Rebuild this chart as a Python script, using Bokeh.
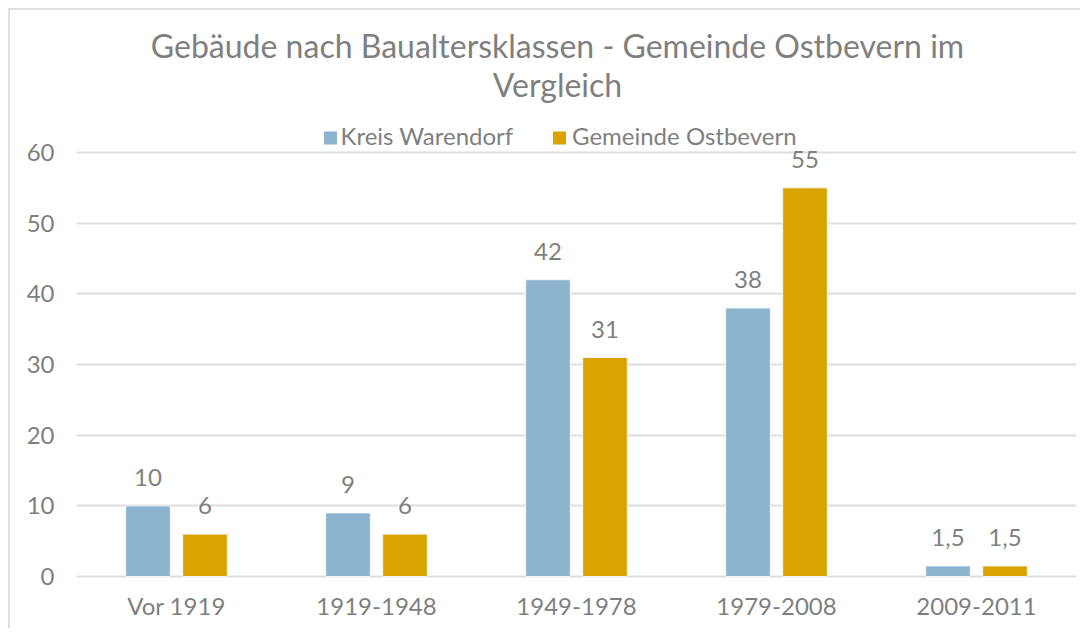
from bokeh.plotting import figure
from bokeh.models import Range1d, FixedTicker, ColumnDataSource
from bokeh.core.properties import value
from bokeh.embed import file_html
from bokeh.resources import INLINE

# ---- data ----
categories = ["Vor 1919", "1919-1948", "1949-1978", "1979-2008", "2009-2011"]
kreis_warendorf = [10, 9, 42, 38, 1.5]
gemeinde_ostbevern = [6, 6, 31, 55, 1.5]
series_names = ["Kreis Warendorf", "Gemeinde Ostbevern"]
y_ticks = [0, 10, 20, 30, 40, 50, 60]
title_lines = ["Gebäude nach Baualtersklassen - Gemeinde Ostbevern im", "Vergleich"]

# ---- style ----
BLUE = "#8cb4cf"
GOLD = "#d9a300"
GREY = "#7f7f7f"
FONT = "Lato"

# pixel geometry (figure coordinates)
PX_X0, PX_PER_CAT = 76, 200.0
PX_Y0, PX_PER_UNIT = 576, 424.0 / 60.0


def xd(px):
    return (px - PX_X0) / PX_PER_CAT


def yd(py):
    return (PX_Y0 - py) / PX_PER_UNIT


W, H = 1080, 628
FRAME_BOTTOM = 580
p = figure(width=W, height=H, output_backend="svg", toolbar_location=None,
           x_range=Range1d(0, len(categories)),
           y_range=Range1d(yd(FRAME_BOTTOM), yd(0)),
           min_border_left=76, min_border_right=W - 1076, min_border_top=0,
           min_border_bottom=H - FRAME_BOTTOM)
p.outline_line_color = None
# transparent canvas so the chart-area outline (CSS background) shows through
p.background_fill_color = None
p.border_fill_color = None
p.styles = {
    "background-color": "white",
    "background-image": "linear-gradient(#e0e0e0, #e0e0e0), linear-gradient(#e0e0e0, #e0e0e0)",
    "background-size": "2px calc(100% - 8px), calc(100% - 8px) 2px",
    "background-position": "8px 8px, 8px 8px",
    "background-repeat": "no-repeat",
}

# grid
p.xgrid.grid_line_color = None
p.ygrid.grid_line_color = "#dedede"
p.ygrid.grid_line_width = 2
p.ygrid.ticker = FixedTicker(ticks=y_ticks)

# y axis
p.yaxis.ticker = FixedTicker(ticks=y_ticks)
p.yaxis.axis_line_color = None
p.yaxis.major_tick_line_color = None
p.yaxis.minor_tick_line_color = None
p.yaxis.major_label_standoff = 16
p.yaxis.major_label_text_font = FONT
p.yaxis.major_label_text_font_size = "24px"
p.yaxis.major_label_text_color = GREY

# x axis
centers = [i + 0.5 for i in range(len(categories))]
p.xaxis.ticker = FixedTicker(ticks=centers)
p.xaxis.major_label_overrides = {c: lab for c, lab in zip(centers, categories)}
p.xaxis.axis_line_color = None
p.xaxis.major_tick_line_color = None
p.xaxis.minor_tick_line_color = None
p.xaxis.major_label_standoff = 4
p.xaxis.major_label_text_font = FONT
p.xaxis.major_label_text_font_size = "24px"
p.xaxis.major_label_text_color = GREY

# bars
off, bw = 0.1425, 0.2235
for vals, col, sign in [(kreis_warendorf, BLUE, -1), (gemeinde_ostbevern, GOLD, 1)]:
    xs = [c + sign * off for c in centers]
    src = ColumnDataSource(dict(x=xs, top=vals,
                                ly=[v + 28.4 / PX_PER_UNIT for v in vals],
                                lab=[str(v).replace(".", ",") if v % 1 else str(int(v)) for v in vals]))
    p.vbar(x="x", top="top", width=bw, bottom=0, source=src,
           fill_color=col, line_color="#f4f8fb", line_width=1)
    p.text(x="x", y="ly", text="lab", source=src, text_align="center",
           text_baseline="middle", text_font=value(FONT), text_font_size="24px",
           text_color=GREY)

# title
p.text(x=[xd(557), xd(557)], y=[yd(44.5), yd(84)], text=title_lines,
       text_align="center", text_baseline="middle", text_font=value(FONT),
       text_font_size="32px", text_color=GREY)

# legend (manual)
p.rect(x=[xd(330), xd(559)], y=[yd(137.5), yd(137.5)], width=13, height=13,
       width_units="screen", height_units="screen",
       fill_color=[BLUE, GOLD], line_color=None)
p.text(x=[xd(340), xd(571.5)], y=[yd(134.8), yd(134.8)], text=series_names,
       text_align="left", text_baseline="middle", text_font=value(FONT),
       text_font_size="24px", text_color=GREY)

open("out.html", "w").write(file_html(p, INLINE))
